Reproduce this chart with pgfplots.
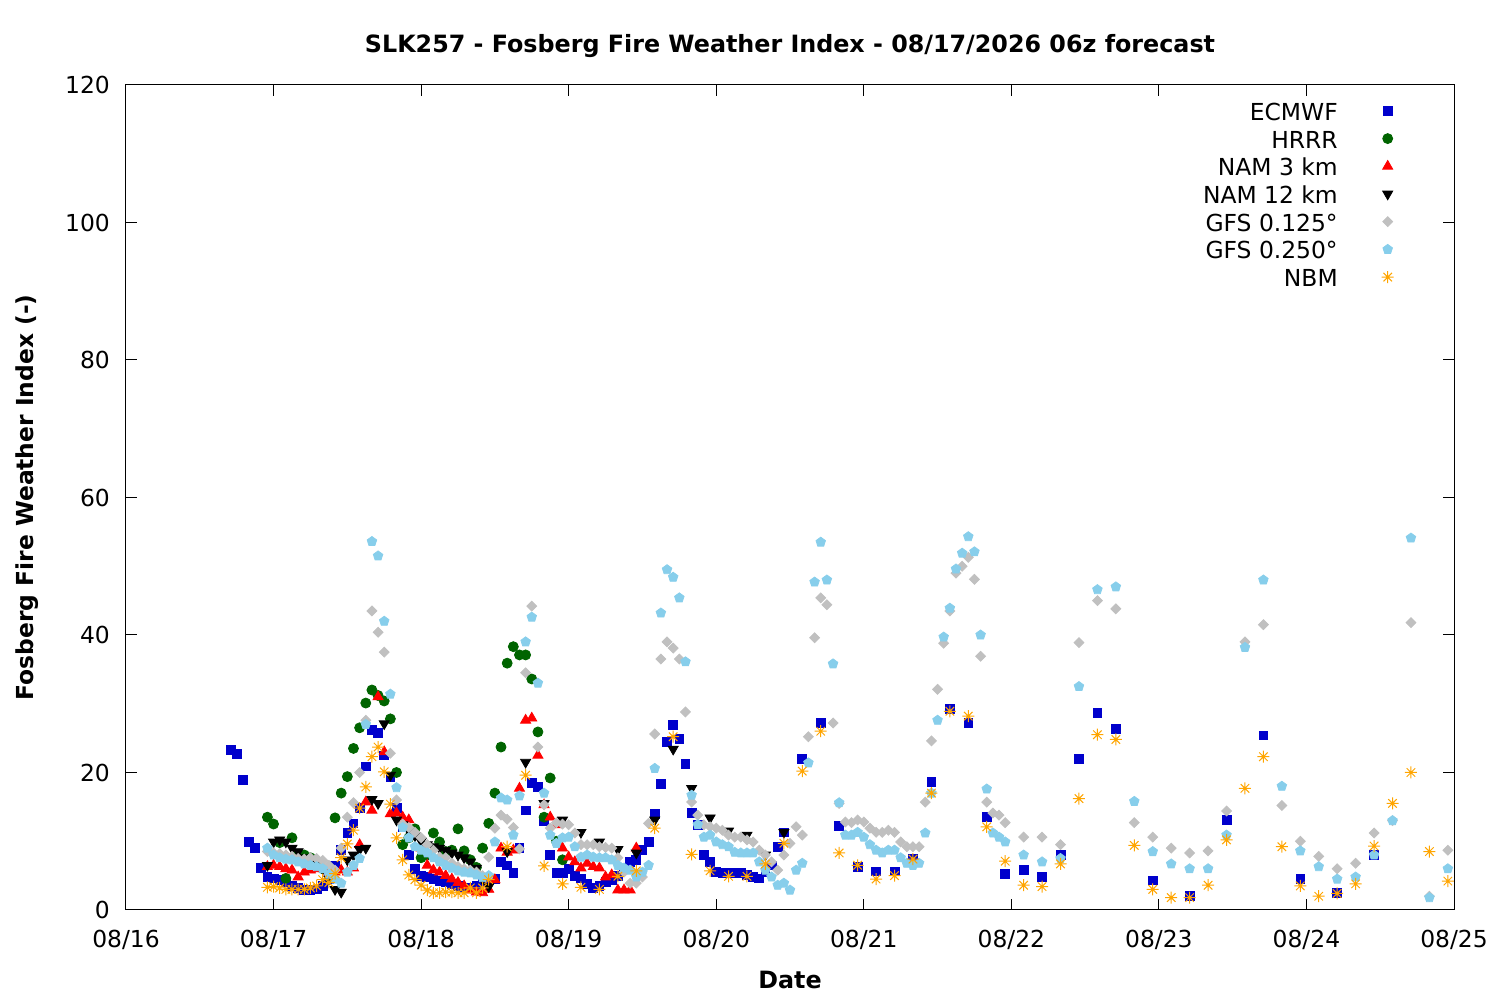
\documentclass[border=0pt]{standalone}
\usepackage{pgfplots}
\usepackage{pgfplotstable}
\pgfplotsset{compat=1.18}
\usepackage{fontspec}
\setmainfont{DejaVu Sans}
\usetikzlibrary{plotmarks}

\definecolor{ecblue}{RGB}{0,0,204}
\definecolor{hrgreen}{RGB}{0,100,0}
\definecolor{namred}{RGB}{255,0,0}
\definecolor{gfsgray}{RGB}{192,192,192}
\definecolor{gfscyan}{RGB}{135,206,235}
\definecolor{nbmorange}{RGB}{255,165,0}

\pgfdeclareplotmark{star8}{%
  \pgfpathmoveto{\pgfqpoint{-\pgfplotmarksize}{0pt}}\pgfpathlineto{\pgfqpoint{\pgfplotmarksize}{0pt}}%
  \pgfpathmoveto{\pgfqpoint{0pt}{-\pgfplotmarksize}}\pgfpathlineto{\pgfqpoint{0pt}{\pgfplotmarksize}}%
  \pgfpathmoveto{\pgfqpoint{-.7071\pgfplotmarksize}{-.7071\pgfplotmarksize}}\pgfpathlineto{\pgfqpoint{.7071\pgfplotmarksize}{.7071\pgfplotmarksize}}%
  \pgfpathmoveto{\pgfqpoint{-.7071\pgfplotmarksize}{.7071\pgfplotmarksize}}\pgfpathlineto{\pgfqpoint{.7071\pgfplotmarksize}{-.7071\pgfplotmarksize}}%
  \pgfusepathqstroke}

% x: hours since 08/16 00:00 local
\pgfplotstableread{
h v
17 23.3
18 22.7
19 18.9
20 9.9
21 9.0
22 6.1
23 4.8
24 4.6
25 4.4
26 4.0
27 3.5
28 3.2
29 2.9
30 2.9
31 3.0
32 3.5
33 4.5
34 6.5
35 8.7
36 11.2
37 12.6
38 14.8
39 20.9
40 26.2
41 25.8
42 22.5
43 19.3
44 14.8
45 12.0
46 8.0
47 6.0
48 5.0
49 4.8
50 4.5
51 4.2
52 4.0
53 3.8
54 3.5
55 3.3
56 3.2
57 3.5
58 4.0
59 4.4
60 4.5
61 7.0
62 6.5
63 5.4
64 9.0
65 14.5
66 18.5
67 17.9
68 13.0
69 8.0
70 5.4
71 5.4
72 6.0
73 5.0
74 4.6
75 3.8
76 3.2
77 3.5
78 4.1
79 4.4
80 5.0
81 6.0
82 7.0
83 7.3
84 8.7
85 9.9
86 14.0
87 18.3
88 24.4
89 26.9
90 24.9
91 21.2
92 14.1
93 12.4
94 8.0
95 7.0
96 5.5
97 5.4
98 5.4
99 5.4
100 5.4
101 5.1
102 4.8
103 4.6
104 5.5
105 6.5
106 9.2
107 11.3
110 22.0
113 27.2
116 12.2
119 6.3
122 5.6
125 5.6
128 7.4
131 18.6
134 29.2
137 27.2
140 13.5
143 5.2
146 5.8
149 4.8
152 8.0
155 22.0
158 28.7
161 26.3
167 4.3
173 2.0
179 13.1
185 25.4
191 4.5
197 2.5
203 8.0
}\ecmwf

\pgfplotstableread{
h v
23 13.5
24 12.5
25 9.8
26 4.6
27 10.5
28 8.0
29 8.0
30 7.6
31 6.5
32 6.0
33 5.8
34 13.4
35 17.0
36 19.4
37 23.5
38 26.5
39 30.1
40 32.0
41 31.2
42 30.4
43 27.8
44 20.0
45 9.5
46 10.5
47 11.8
48 7.6
49 8.0
50 11.2
51 9.9
52 8.5
53 8.7
54 11.8
55 8.6
56 7.3
57 6.2
58 9.0
59 12.6
60 17.0
61 23.7
62 35.9
63 38.3
64 37.1
65 37.1
66 33.6
67 25.9
68 13.5
69 19.2
70 10.0
71 7.3
}\hrrr

\pgfplotstableread{
h v
23 6.3
24 6.5
25 6.3
26 6.0
27 5.8
28 4.8
29 5.5
30 5.8
31 6.0
32 6.2
33 5.5
34 5.5
35 5.8
36 5.5
37 6.1
38 9.5
39 15.7
40 14.5
41 31.0
42 23.0
43 14.0
44 14.1
45 13.5
46 13.1
47 11.0
48 9.0
49 6.5
50 5.8
51 5.5
52 5.0
53 4.5
54 4.0
55 3.5
56 2.9
57 2.6
58 2.5
59 3.0
60 4.4
61 9.0
62 8.4
63 8.7
64 17.7
65 27.6
66 27.9
67 22.5
68 15.3
69 13.5
70 12.4
71 9.0
72 7.7
73 7.0
74 6.1
75 6.8
76 6.3
77 6.1
78 4.8
79 5.1
80 2.9
81 2.9
82 2.9
83 9.0
}\namthree

\pgfplotstableread{
h v
23 6.5
24 9.9
25 10.2
26 9.9
27 9.0
28 8.5
29 7.6
30 7.5
31 7.0
32 6.0
33 4.5
34 3.0
35 2.6
36 7.3
37 8.0
38 8.8
39 9.0
40 16.1
41 15.5
42 27.1
43 19.6
44 13.1
45 12.4
46 11.5
47 10.8
48 10.0
49 9.5
50 9.2
51 9.0
52 8.7
53 8.3
54 8.0
55 7.6
56 7.0
57 6.1
58 4.5
59 3.4
62 8.5
65 21.5
68 15.5
71 13.1
74 11.3
77 9.9
80 8.8
83 8.3
86 13.1
89 23.4
92 17.7
95 13.4
98 11.5
101 10.9
104 8.0
107 11.3
}\namtwelve

\pgfplotstableread{
h v
23 8.5
24 8.3
25 8.2
26 8.0
27 7.8
28 7.5
29 7.4
30 7.6
31 7.5
32 7.2
33 6.5
34 5.8
35 9.0
36 13.5
37 15.6
38 20.0
39 27.6
40 43.5
41 40.4
42 37.5
43 22.8
44 16.0
45 12.5
46 12.0
47 11.3
48 10.5
49 9.5
50 8.7
51 7.7
52 7.6
53 6.8
54 6.3
55 6.0
56 5.8
57 5.5
58 5.0
59 7.7
60 11.9
61 13.8
62 13.2
63 12.0
64 8.9
65 34.5
66 44.2
67 23.7
68 15.3
69 11.9
70 12.7
71 12.5
72 12.4
73 11.2
74 9.5
75 9.5
76 9.5
77 9.2
78 9.1
79 9.0
80 7.6
81 5.5
82 3.9
83 3.9
84 4.8
85 12.6
86 25.6
87 36.5
88 39.0
89 38.1
90 36.5
91 28.8
92 15.7
93 13.8
94 12.4
95 12.1
96 11.9
97 11.6
98 10.9
99 10.6
100 10.6
101 10.2
102 9.9
103 8.7
104 8.0
105 7.0
106 5.8
107 8.0
108 9.7
109 12.1
110 10.9
111 25.2
112 39.6
113 45.4
114 44.4
115 27.2
116 15.5
117 12.8
118 12.7
119 13.1
120 12.8
121 11.9
122 11.3
123 11.3
124 11.6
125 11.3
126 9.9
127 9.2
128 9.2
129 9.2
130 15.7
131 24.6
132 32.1
133 38.8
134 43.5
135 49.0
136 50.0
137 51.3
138 48.1
139 36.9
140 15.7
141 14.1
142 13.8
143 12.7
146 10.6
149 10.6
152 9.5
155 38.9
158 45.0
161 43.8
164 12.7
167 10.6
170 9.0
173 8.3
176 8.6
179 14.4
182 39.0
185 41.5
188 15.2
191 10.0
194 7.8
197 6.0
200 6.8
203 11.2
206 13.0
209 41.8
212 2.0
215 8.7
}\gfsa

\pgfplotstableread{
h v
23 9.0
24 8.0
25 7.6
26 7.4
27 7.3
28 7.0
29 6.7
30 6.5
31 6.3
32 6.0
33 5.2
34 4.5
35 3.9
36 5.5
37 6.5
38 7.5
39 27.0
40 53.6
41 51.5
42 42.0
43 31.4
44 17.8
45 12.0
46 10.5
47 9.2
48 8.7
49 8.3
50 7.6
51 7.0
52 6.5
53 6.1
54 5.7
55 5.5
56 5.4
57 5.1
58 4.7
59 5.0
60 9.9
61 16.3
62 16.0
63 10.9
64 16.6
65 39.0
66 42.6
67 33.0
68 17.0
69 10.9
70 9.7
71 10.5
72 10.6
73 9.2
74 7.7
75 8.0
76 7.7
77 7.6
78 7.6
79 7.3
80 6.5
81 6.1
82 5.8
83 4.8
84 5.5
85 6.5
86 20.6
87 43.2
88 49.5
89 48.4
90 45.4
91 36.1
92 16.7
93 12.4
94 10.6
95 10.9
96 9.9
97 9.5
98 9.2
99 8.4
100 8.3
101 8.3
102 8.3
103 7.0
104 5.8
105 4.8
106 3.6
107 3.9
108 2.9
109 5.8
110 6.8
111 21.4
112 47.7
113 53.5
114 48.0
115 35.8
116 15.6
117 10.9
118 10.9
119 11.3
120 10.6
121 9.5
122 8.7
123 8.3
124 8.7
125 8.7
126 7.6
127 6.8
128 6.5
129 6.8
130 11.2
131 17.0
132 27.6
133 39.7
134 43.9
135 49.6
136 51.9
137 54.3
138 52.1
139 40.0
140 17.6
141 11.2
142 10.6
143 9.9
146 8.0
149 7.0
152 7.5
155 32.5
158 46.6
161 47.0
164 15.8
167 8.5
170 6.7
173 6.0
176 6.0
179 10.9
182 38.2
185 48.0
188 18.0
191 8.6
194 6.3
197 4.5
200 4.8
203 8.0
206 13.0
209 54.1
212 1.8
215 6.0
}\gfsb

\pgfplotstableread{
h v
23 3.3
24 3.4
25 3.2
26 3.0
27 3.0
28 3.0
29 3.0
30 3.2
31 3.5
32 4.4
33 4.0
34 5.3
35 7.6
36 9.6
37 11.6
38 14.8
39 17.9
40 22.3
41 23.7
42 20.1
43 15.4
44 10.5
45 7.3
46 5.1
47 4.4
48 3.6
49 2.9
50 2.5
51 2.5
52 2.6
53 2.6
54 2.5
55 2.5
56 3.2
57 2.5
58 3.2
59 4.4
62 9.2
65 19.6
68 6.4
71 3.8
74 3.3
77 3.0
80 4.9
83 5.7
86 11.9
89 25.2
92 8.1
95 5.7
98 4.9
101 4.9
104 6.7
107 9.7
110 20.2
113 26.0
116 8.3
119 6.5
122 4.5
125 5.0
128 7.4
131 17.0
134 28.9
137 28.2
140 12.1
143 7.1
146 3.6
149 3.4
152 6.7
155 16.2
158 25.5
161 24.8
164 9.4
167 3.0
170 1.8
173 1.8
176 3.6
179 10.2
182 17.7
185 22.3
188 9.2
191 3.5
194 2.0
197 2.4
200 3.8
203 9.3
206 15.5
209 20.0
212 8.5
215 4.2
}\nbm

\begin{document}
\fontsize{11.7}{14}\selectfont
\begin{tikzpicture}
\begin{axis}[
  scale only axis,
  width=664pt, height=412.5pt,
  xmin=0, xmax=216, ymin=0, ymax=120,
  xtick={0,24,...,216},
  xticklabels={08/16,08/17,08/18,08/19,08/20,08/21,08/22,08/23,08/24,08/25},
  ytick={0,20,...,120},
  tick align=inside,
  major tick length=5.5pt,
  axis line style={line width=0.5pt},
  every tick/.style={line width=0.5pt, black},
  /pgf/number format/assume math mode=true,
  tick label style={font=\fontsize{11.7}{14}\selectfont},
  xticklabel style={yshift=-6pt},
  yticklabel style={xshift=-4pt},
  title={\bfseries SLK257 - Fosberg Fire Weather Index - 08/17/2026 06z forecast},
  title style={at={(axis description cs:0.5,1.0327)}, anchor=center, font=\fontsize{11.9}{14}\selectfont},
  xlabel={\bfseries Date},
  xlabel style={at={(axis description cs:0.5,-0.0848)}, anchor=center, font=\fontsize{11.9}{14}\selectfont},
  ylabel={\bfseries Fosberg Fire Weather Index (-)},
  ylabel style={at={(axis description cs:-0.0745,0.5)}, anchor=center, font=\fontsize{11.7}{14}\selectfont},
  legend plot pos=right,
  legend cell align=right,
  legend style={at={(axis description cs:0.9549,0.9806)}, anchor=north east,
    draw=none, fill=none, inner sep=0pt, column sep=21pt, row sep=3.35pt,
    font=\fontsize{11.7}{14}\selectfont,
    nodes={inner sep=1pt, text height=8.5pt, text depth=0pt}},
  legend image code/.code={\draw[#1] plot coordinates {(0pt,0.5pt)};},
  every axis plot/.append style={only marks},
]
\addplot[mark=square*, mark size=2.2pt, color=ecblue] table[x=h,y=v] {\ecmwf};
\addlegendentry{ECMWF}
\addplot[mark=*, mark size=2.5pt, color=hrgreen] table[x=h,y=v] {\hrrr};
\addlegendentry{HRRR}
\addplot[mark=triangle*, mark size=2.9pt, color=namred] table[x=h,y=v] {\namthree};
\addlegendentry{NAM 3 km}
\addplot[mark=triangle*, mark size=2.9pt, mark options={rotate=180}, color=black] table[x=h,y=v] {\namtwelve};
\addlegendentry{NAM 12 km}
\addplot[mark=square*, mark size=1.75pt, mark options={rotate=45}, color=gfsgray] table[x=h,y=v] {\gfsa};
\addlegendentry{GFS 0.125°}
\addplot[mark=pentagon*, mark size=2.5pt, color=gfscyan] table[x=h,y=v] {\gfsb};
\addlegendentry{GFS 0.250°}
\addplot[mark=star8, mark size=3pt, color=nbmorange, line width=0.5pt] table[x=h,y=v] {\nbm};
\addlegendentry{NBM}
\end{axis}
\pgfresetboundingbox
\path[use as bounding box] ([shift={(-63pt,-45pt)}]current axis.south west) rectangle ([shift={(23pt,42.5pt)}]current axis.north east);
\end{tikzpicture}
\end{document}
